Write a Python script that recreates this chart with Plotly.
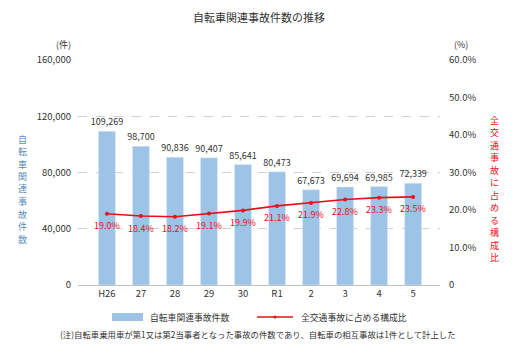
import plotly.graph_objects as go

categories = ["H26", "27", "28", "29", "30", "R1", "2", "3", "4", "5"]
accidents = [109269, 98700, 90836, 90407, 85641, 80473, 67673, 69694, 69985, 72339]
share_pct = [19.0, 18.4, 18.2, 19.1, 19.9, 21.1, 21.9, 22.8, 23.3, 23.5]
left_ticks = [0, 40000, 80000, 120000, 160000]
left_ticktext = ["0", "40,000", "80,000", "120,000", "160,000"]
right_ticks = [0, 10, 20, 30, 40, 50, 60]
right_ticktext = ["0", "10.0%", "20.0%", "30.0%", "40.0%", "50.0%", "60.0%"]
left_title = "自転車関連事故件数"
right_title = "全交通事故に占める構成比"

FONT = "Noto Sans CJK JP"
BAR_C = "#9dc3e6"
LINE_C = "#e8101a"
BLUE_T = "#5a8dbb"
TXT = "#333333"

W, H = 512, 346
L, R, T, B = 78, 72, 60, 61
PW, PH = W - L - R, H - T - B


def px(x):
    return (x - L) / PW


def py(y):
    return (H - B - y) / PH


x_idx = list(range(len(categories)))

fig = go.Figure()
fig.add_trace(go.Bar(
    x=x_idx, y=accidents, marker_color=BAR_C, width=0.5,
    text=[f"{v:,}" for v in accidents], textposition="outside", constraintext="none",
    textfont=dict(size=9, color=TXT, family=FONT), cliponaxis=False,
    showlegend=False,
))
fig.add_trace(go.Scatter(
    x=x_idx, y=share_pct, yaxis="y2", mode="lines+markers",
    line=dict(color=LINE_C, width=1.6), marker=dict(color=LINE_C, size=4),
    cliponaxis=False, showlegend=False,
))

annotations = [
    dict(text="自転車関連事故件数の推移", x=0.5, y=py(17), xref="paper", yref="paper",
         showarrow=False, font=dict(size=11, color=TXT, family=FONT), xanchor="center", yanchor="middle"),
    dict(text="(件)", x=px(63), y=py(44), xref="paper", yref="paper",
         showarrow=False, font=dict(size=9, color=TXT, family=FONT), xanchor="center", yanchor="middle"),
    dict(text="(%)", x=px(461), y=py(44), xref="paper", yref="paper",
         showarrow=False, font=dict(size=9, color=TXT, family=FONT), xanchor="center", yanchor="middle"),
    dict(text="自転車関連事故件数", x=px(148), y=py(317), xref="paper", yref="paper",
         showarrow=False, font=dict(size=8.8, color=TXT, family=FONT), xanchor="left", yanchor="middle"),
    dict(text="全交通事故に占める構成比", x=px(299), y=py(317), xref="paper", yref="paper",
         showarrow=False, font=dict(size=8.8, color=TXT, family=FONT), xanchor="left", yanchor="middle"),
    dict(text="(注)自転車乗用車が第1又は第2当事者となった事故の件数であり、自転車の相互事故は1件として計上した",
         x=px(58), y=py(334), xref="paper", yref="paper",
         showarrow=False, font=dict(size=8.4, color=TXT, family=FONT), xanchor="left", yanchor="middle"),
]

# percentage labels below each point
for i, v in zip(x_idx, share_pct):
    annotations.append(dict(text=f"{v:.1f}%", x=i, y=v, xref="x", yref="y2", yshift=-12,
                            showarrow=False, font=dict(size=9, color=LINE_C, family=FONT),
                            xanchor="center", yanchor="middle"))

# vertical axis titles, one character per line
for k, ch in enumerate(left_title):
    annotations.append(dict(text=ch, x=px(22), y=py(139 + 12.5 * k), xref="paper", yref="paper",
                            showarrow=False, borderpad=0,
                            font=dict(size=9.0, color=BLUE_T, family=FONT),
                            xanchor="center", yanchor="middle"))
for k, ch in enumerate(right_title):
    annotations.append(dict(text=ch, x=px(494), y=py(120 + 12.5 * k), xref="paper", yref="paper",
                            showarrow=False, borderpad=0,
                            font=dict(size=9.0, color=LINE_C, family=FONT),
                            xanchor="center", yanchor="middle"))

shapes = [
    dict(type="rect", xref="paper", yref="paper", x0=px(112), x1=px(143), y0=py(321), y1=py(313),
         fillcolor=BAR_C, line=dict(width=0)),
    dict(type="line", xref="paper", yref="paper", x0=px(257), x1=px(293), y0=py(317), y1=py(317),
         line=dict(color=LINE_C, width=1.3)),
    dict(type="circle", xref="paper", yref="paper", x0=px(273.5), x1=px(276.5), y0=py(318.5), y1=py(315.5),
         fillcolor=LINE_C, line=dict(width=0)),
]

fig.update_layout(
    width=W, height=H, margin=dict(l=L, r=R, t=T, b=B),
    paper_bgcolor="white", plot_bgcolor="white",
    font=dict(family=FONT, color=TXT, size=9.5),
    bargap=0.5,
    xaxis=dict(range=[-0.85, 9.79], tickvals=x_idx, ticktext=categories, showgrid=False,
               showline=True, linecolor="#bfbfbf", linewidth=1, ticks="", zeroline=False,
               tickfont=dict(size=9.5, color=TXT), fixedrange=True),
    yaxis=dict(range=[0, 160000], tickvals=left_ticks, ticktext=left_ticktext, showgrid=True,
               gridcolor="#d0d0d0", griddash="dash", gridwidth=1, zeroline=False, ticks="",
               ticklabelstandoff=6, tickfont=dict(size=9.5, color=TXT)),
    yaxis2=dict(range=[0, 60], overlaying="y", side="right", tickvals=right_ticks, ticktext=right_ticktext,
                showgrid=False, zeroline=False, ticks="", ticklabelstandoff=8,
                tickfont=dict(size=9.5, color=TXT)),
    annotations=annotations, shapes=shapes,
)

fig.write_html("out.html")
